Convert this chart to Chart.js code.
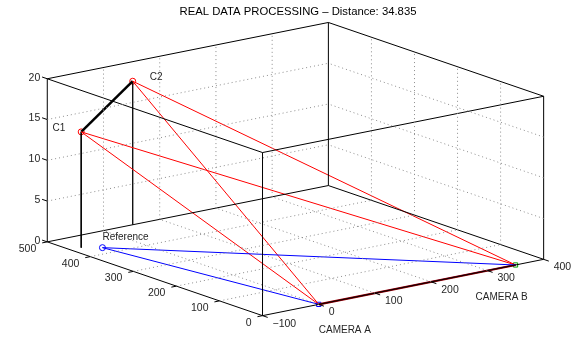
<!DOCTYPE html>
<html>
<head>
<meta charset="utf-8">
<script src="https://cdn.jsdelivr.net/npm/chart.js@4.4.0/dist/chart.umd.min.js"></script>
<style>
  html, body { margin: 0; padding: 0; background: #fff; }
  #wrap { width: 586px; height: 342px; }
</style>
</head>
<body>
<div id="wrap"><canvas id="realData"></canvas></div>
<script>
// axis limits and ticks
const xLim = [-100, 400];
const yLim = [0, 500];
const zLim = [0, 20];
const xTicks = [-100, 0, 100, 200, 300, 400];
const yTicks = [0, 100, 200, 300, 400, 500];
const zTicks = [0, 5, 10, 15, 20];

// measured points (x, y, z)
const cameraA = [0, 0, 0];
const cameraB = [350, 0, 0];
const refPoint = [-57, 428, 0];
const c1 = [-81, 446, 14.2];
const c2 = [52, 500, 17.6];
const distance = 34.835;

// orthographic view, taken off the figure
const view = { ox: 262, oy: 320, xx: 0.572, xy: -0.116, yx: -0.438, yy: -0.152, zy: -8.4 };
function proj(p) {
  const u = p[0] - xLim[0], v = p[1] - yLim[0], w = p[2] - zLim[0];
  return { x: view.ox + u * view.xx + v * view.yx, y: view.oy + u * view.xy + v * view.yy + w * view.zy };
}

const datasets = [];
function seg(a, b, color, width, dash) {
  datasets.push({
    data: [proj(a), proj(b)],
    showLine: true,
    borderColor: color,
    borderWidth: width,
    borderDash: dash || [],
    pointRadius: 0,
    fill: false
  });
}
function marker(p, style, color, r) {
  datasets.push({
    data: [proj(p)],
    showLine: false,
    pointStyle: style,
    pointRadius: r,
    pointBorderColor: color,
    pointBackgroundColor: 'rgba(0,0,0,0)',
    pointBorderWidth: 1
  });
}

// grid (dotted)
const gridCol = '#8c8c8c', gridDash = [1, 3];
xTicks.slice(1, -1).forEach(x => {
  seg([x, yLim[0], zLim[0]], [x, yLim[1], zLim[0]], gridCol, 1, gridDash);
  seg([x, yLim[1], zLim[0]], [x, yLim[1], zLim[1]], gridCol, 1, gridDash);
});
yTicks.slice(1, -1).forEach(y => {
  seg([xLim[0], y, zLim[0]], [xLim[1], y, zLim[0]], gridCol, 1, gridDash);
  seg([xLim[1], y, zLim[0]], [xLim[1], y, zLim[1]], gridCol, 1, gridDash);
});
zTicks.slice(1, -1).forEach(z => {
  seg([xLim[0], yLim[1], z], [xLim[1], yLim[1], z], gridCol, 1, gridDash);
  seg([xLim[1], yLim[0], z], [xLim[1], yLim[1], z], gridCol, 1, gridDash);
});

// box edges
[zLim[0], zLim[1]].forEach(z => {
  seg([xLim[0], yLim[0], z], [xLim[1], yLim[0], z], '#000', 1);
  seg([xLim[0], yLim[1], z], [xLim[1], yLim[1], z], '#000', 1);
  seg([xLim[0], yLim[0], z], [xLim[0], yLim[1], z], '#000', 1);
  seg([xLim[1], yLim[0], z], [xLim[1], yLim[1], z], '#000', 1);
});
[[xLim[0], yLim[0]], [xLim[1], yLim[0]], [xLim[0], yLim[1]], [xLim[1], yLim[1]]].forEach(c => {
  seg([c[0], c[1], zLim[0]], [c[0], c[1], zLim[1]], '#000', 1);
});

// reference triangle
seg(refPoint, cameraA, '#0000ff', 1);
seg(refPoint, cameraB, '#0000ff', 1);
seg(cameraA, cameraB, '#a00000', 2.2);
seg(cameraA, cameraB, '#0000ff', 1.3);

// rays from cameras to C1 / C2
seg(c1, cameraA, '#ff0000', 1);
seg(c1, cameraB, '#ff0000', 1);
seg(c2, cameraA, '#ff0000', 1);
seg(c2, cameraB, '#ff0000', 1);

// stems and C1-C2
seg(c1, [c1[0], c1[1], 0], '#000', 1);
seg(c2, [c2[0], c2[1], 0], '#000', 1.3);
seg(c1, c2, '#000', 2.5);

marker(cameraA, 'rect', '#0000ff', 3);
marker(cameraB, 'rect', '#00a000', 3);
marker(refPoint, 'circle', '#0000ff', 3);
marker(c1, 'circle', '#ff0000', 3);
marker(c2, 'circle', '#ff0000', 3);

// text labels (pixel offsets from their points)
const pointLabels = [
  { p: c1, text: 'C1', dx: -16, dy: -4, align: 'right' },
  { p: c2, text: 'C2', dx: 17, dy: -4, align: 'left' },
  { p: refPoint, text: 'Reference', dx: 0, dy: -10, align: 'left' },
  { p: cameraA, text: 'CAMERA A', dx: 0, dy: 26, align: 'left' },
  { p: cameraB, text: 'CAMERA B', dx: -40, dy: 32, align: 'left' }
];

const axes3d = {
  id: 'axes3d',
  afterDatasetsDraw(chart) {
    const ctx = chart.ctx, sx = chart.scales.x, sy = chart.scales.y;
    const px = p => { const q = proj(p); return { x: sx.getPixelForValue(q.x), y: sy.getPixelForValue(q.y) }; };
    ctx.save();
    ctx.strokeStyle = '#000';
    ctx.lineWidth = 1;
    ctx.fillStyle = '#262626';
    ctx.font = '10.5px "Liberation Sans", Arial, sans-serif';
    ctx.textBaseline = 'middle';
    const tick = (a, b) => { ctx.beginPath(); ctx.moveTo(a.x, a.y); ctx.lineTo(b.x, b.y); ctx.stroke(); };

    // z ticks on the left edge
    ctx.textAlign = 'right';
    zTicks.forEach(z => {
      const a = px([xLim[0], yLim[1], z]);
      const b = px([xLim[0], yLim[1] + 12, z]);
      tick(a, b);
      ctx.fillText(String(z), a.x - 7, a.y - 1);
    });
    // y ticks along the left-front edge
    yTicks.forEach(y => {
      const a = px([xLim[0], y, zLim[0]]);
      const b = px([xLim[0] - 9, y, zLim[0]]);
      tick(a, b);
      ctx.fillText(String(y), a.x - 11, a.y + 7);
    });
    // x ticks along the right-front edge
    ctx.textAlign = 'left';
    xTicks.forEach(x => {
      const a = px([x, yLim[0], zLim[0]]);
      const b = px([x, yLim[0] - 12, zLim[0]]);
      tick(a, b);
      ctx.fillText(String(x).replace('-', '\u2212'), a.x + 10, a.y + 8);
    });

    ctx.font = '10px "Liberation Sans", Arial, sans-serif';
    pointLabels.forEach(l => {
      const a = px(l.p);
      ctx.textAlign = l.align;
      ctx.fillText(l.text, a.x + l.dx, a.y + l.dy);
    });

    ctx.font = '11.3px "Liberation Sans", Arial, sans-serif';
    ctx.fillStyle = '#000';
    ctx.textAlign = 'center';
    ctx.fillText('REAL DATA PROCESSING \u2013 Distance: ' + distance.toFixed(3), 298, 12);
    ctx.restore();
  }
};

new Chart(document.getElementById('realData'), {
  type: 'scatter',
  data: { datasets: datasets },
  options: {
    responsive: true,
    maintainAspectRatio: false,
    animation: false,
    layout: { padding: 0 },
    scales: {
      x: { type: 'linear', min: 0, max: 586, display: false },
      y: { type: 'linear', min: 0, max: 342, reverse: true, display: false }
    },
    plugins: {
      legend: { display: false },
      title: { display: false },
      tooltip: { enabled: false }
    }
  },
  plugins: [axes3d]
});
</script>
</body>
</html>
